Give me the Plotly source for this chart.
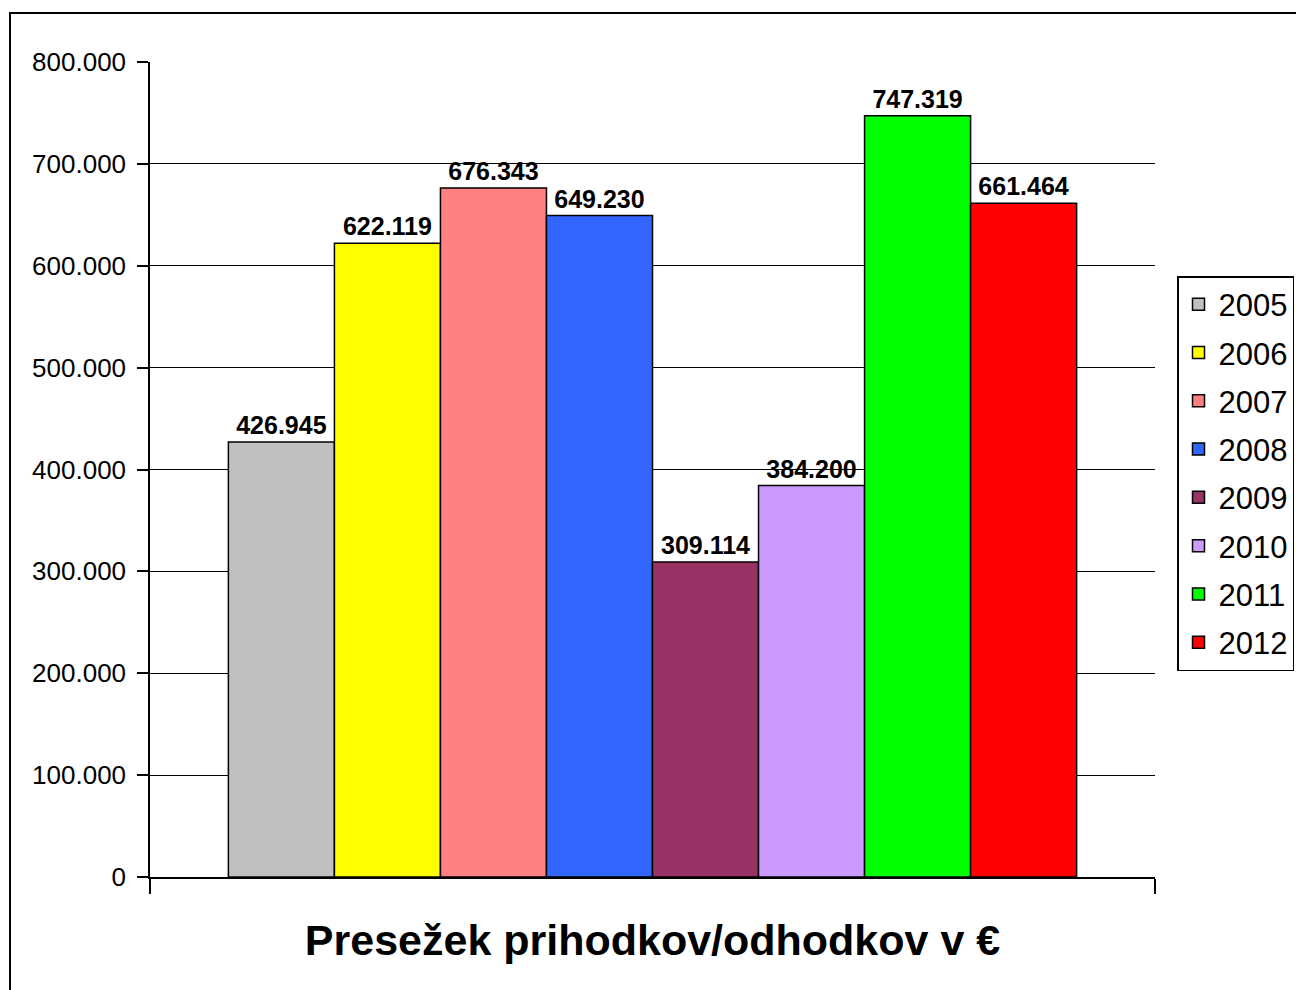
import plotly.graph_objects as go

years = ["2005", "2006", "2007", "2008", "2009", "2010", "2011", "2012"]
values = [426945, 622119, 676343, 649230, 309114, 384200, 747319, 661464]
colors = ["#C0C0C0", "#FFFF00", "#FF8080", "#3366FF", "#993366", "#CC99FF", "#00FF00", "#FF0000"]
category = [""]
y_ticks = [0, 100000, 200000, 300000, 400000, 500000, 600000, 700000, 800000]
title_text = "Presežek prihodkov/odhodkov v €"

W, H = 1296, 990
L, R, T, B = 150, 1155, 62, 877

fig = go.Figure()
for yr, v, c in zip(years, values, colors):
    fig.add_trace(go.Bar(
        x=category, y=[v], name=yr, legendgroup=yr,
        marker=dict(color=c, line=dict(color="black", width=1.5)),
        texttemplate="%{y:,}", textposition="outside", constraintext="none",
        textfont=dict(family="Liberation Sans, Arial, sans-serif", size=25, color="black", weight="bold"),
        cliponaxis=False,
    ))

pw, ph = R - L, B - T
fig.update_layout(
    width=W, height=H,
    margin=dict(l=L, r=W - R, t=T, b=H - B, autoexpand=False),
    paper_bgcolor="white", plot_bgcolor="white",
    separators=",.",
    barmode="group", bargap=0.156, bargroupgap=0,
    font=dict(family="Liberation Sans, Arial, sans-serif", color="black"),
    showlegend=True,
    legend=dict(
        x=(1177 - L) / pw, y=(B - 276) / ph, xanchor="left", yanchor="top",
        bordercolor="black", borderwidth=1.5, bgcolor="white",
        font=dict(size=31, color="black"),
        traceorder="grouped", tracegroupgap=5,
    ),
    xaxis=dict(
        type="category", range=[-0.5, 0.5], showgrid=False,
        showline=True, linecolor="black", linewidth=1.5,
        ticks="outside", tickson="boundaries", ticklen=15, tickwidth=1.5, tickcolor="black",
        showticklabels=False, zeroline=False,
        title=dict(text=title_text, font=dict(size=43, weight="bold", color="black"), standoff=47),
    ),
    yaxis=dict(
        range=[0, 800000], tickvals=y_ticks, tickformat=",",
        showgrid=True, gridcolor="black", gridwidth=1.3,
        showline=True, linecolor="black", linewidth=1.5,
        ticks="outside", ticklen=11, tickwidth=1.5, tickcolor="black",
        tickfont=dict(family="Liberation Sans, Arial, sans-serif", size=26, color="black"),
        ticklabelstandoff=6,
        zeroline=False,
    ),
    shapes=[dict(
        type="rect", xref="paper", yref="paper",
        x0=(10 - L) / pw, x1=(1310 - L) / pw,
        y0=(B - 1005) / ph, y1=(B - 13) / ph,
        line=dict(color="black", width=2), fillcolor="rgba(0,0,0,0)", layer="below",
    )],
)

fig.write_html(
    "out.html",
    config={"displayModeBar": False},
    post_script="document.body.style.margin='0';document.body.style.overflow='hidden';",
)
